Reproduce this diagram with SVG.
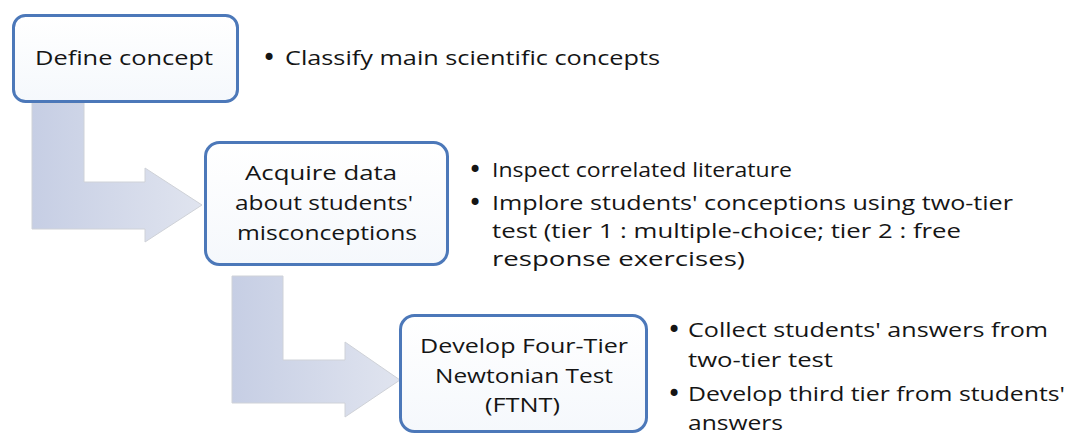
<svg xmlns="http://www.w3.org/2000/svg" width="1075" height="435" viewBox="0 0 1075 435">
<defs>
<linearGradient id="arrowFill" x1="0" y1="0" x2="1" y2="0">
<stop offset="0" stop-color="#c6cee4"/>
<stop offset="1" stop-color="#e0e4ef"/>
</linearGradient>
<linearGradient id="boxFill" x1="0" y1="0" x2="0" y2="1">
<stop offset="0" stop-color="#ffffff"/>
<stop offset="1" stop-color="#f5f8fc"/>
</linearGradient>
</defs>
<style>
.box{fill:url(#boxFill);stroke:#4c78b9;stroke-width:3}
.arrow{fill:url(#arrowFill);stroke:#cfd2d8;stroke-width:1}
text{font-family:"Open Sans","Liberation Sans",sans-serif;font-size:20px;fill:#151515}
text.bul{font-family:"DejaVu Sans",sans-serif;font-size:24px}
</style>
<rect width="1075" height="435" fill="#ffffff"/>
<g id="connectors">
<path class="arrow" d="M32,103 L84,103 L84,182 L145,182 L145,168 L202,205 L145,242 L145,229 L32,229 Z"/>
<path class="arrow" d="M232,276 L283,276 L283,360 L345,360 L345,342 L400,380 L345,417 L345,403 L232,403 Z"/>
</g>
<g id="node-define">
<rect class="box" x="13.5" y="15.5" width="224" height="86" rx="12"/>
<text x="35" y="65" textLength="178" lengthAdjust="spacingAndGlyphs">Define concept</text>
</g>
<g id="notes-define">
<text class="bul" x="262" y="66">•</text>
<text x="285" y="65" textLength="375" lengthAdjust="spacingAndGlyphs">Classify main scientific concepts</text>
</g>
<g id="node-acquire">
<rect class="box" x="205.5" y="142.5" width="242" height="122" rx="14"/>
<text x="245" y="180" textLength="152" lengthAdjust="spacingAndGlyphs">Acquire data</text>
<text x="235" y="210" textLength="178" lengthAdjust="spacingAndGlyphs">about students'</text>
<text x="237" y="240" textLength="180" lengthAdjust="spacingAndGlyphs">misconceptions</text>
</g>
<g id="notes-acquire">
<text class="bul" x="468" y="178">•</text>
<text x="492" y="177" textLength="300" lengthAdjust="spacingAndGlyphs">Inspect correlated literature</text>
<text class="bul" x="468" y="211">•</text>
<text x="492" y="210" textLength="521" lengthAdjust="spacingAndGlyphs">Implore students' conceptions using two-tier</text>
<text x="492" y="238" textLength="469" lengthAdjust="spacingAndGlyphs">test (tier 1 : multiple-choice; tier 2 : free</text>
<text x="492" y="266" textLength="253" lengthAdjust="spacingAndGlyphs">response exercises)</text>
</g>
<g id="node-develop">
<rect class="box" x="400.5" y="315.5" width="246" height="116" rx="14"/>
<text x="420" y="353" textLength="208" lengthAdjust="spacingAndGlyphs">Develop Four-Tier</text>
<text x="435" y="383" textLength="178" lengthAdjust="spacingAndGlyphs">Newtonian Test</text>
<text x="485" y="412" textLength="75" lengthAdjust="spacingAndGlyphs">(FTNT)</text>
</g>
<g id="notes-develop">
<text class="bul" x="667" y="338">•</text>
<text x="688" y="337" textLength="360" lengthAdjust="spacingAndGlyphs">Collect students' answers from</text>
<text x="688" y="367" textLength="145" lengthAdjust="spacingAndGlyphs">two-tier test</text>
<text class="bul" x="667" y="402">•</text>
<text x="688" y="401" textLength="377" lengthAdjust="spacingAndGlyphs">Develop third tier from students'</text>
<text x="688" y="430" textLength="95" lengthAdjust="spacingAndGlyphs">answers</text>
</g>
</svg>
